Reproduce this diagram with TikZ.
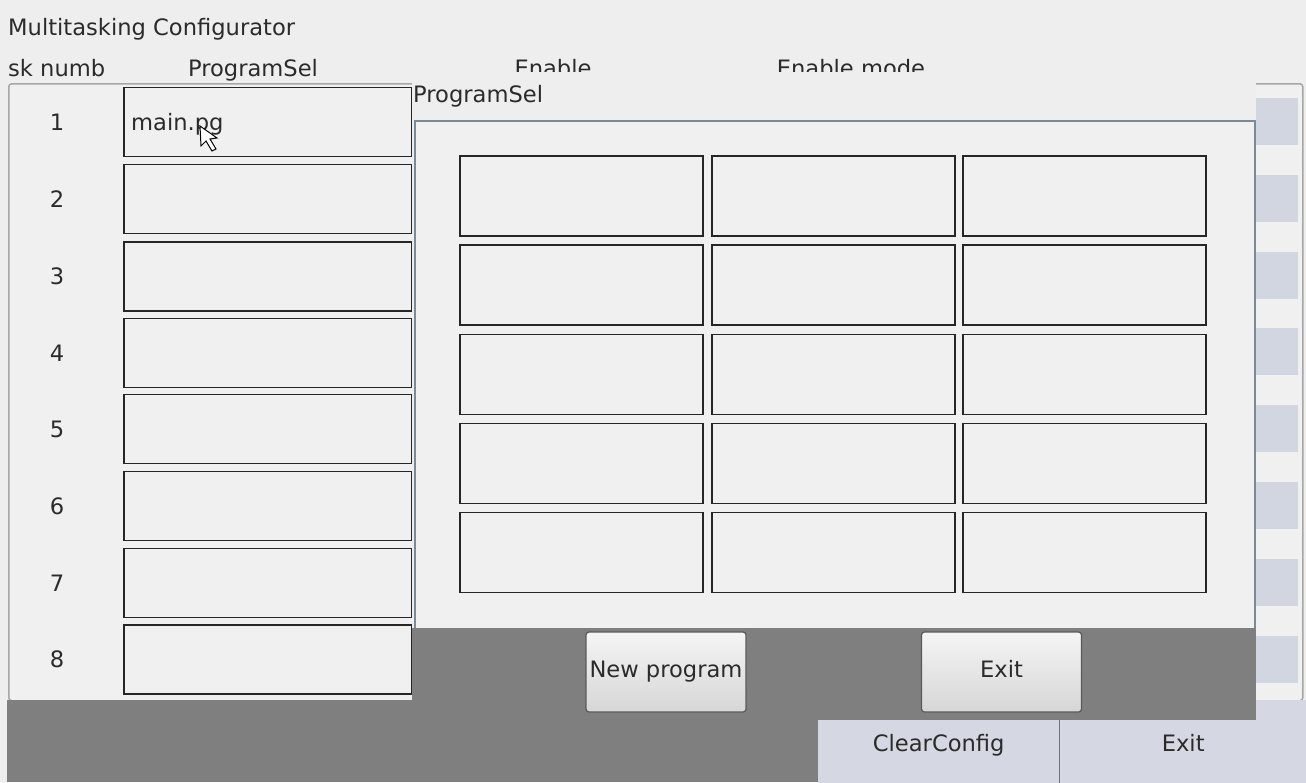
\documentclass[tikz,border=0pt]{standalone}
\usepackage{fontspec}
\setmainfont{DejaVu Sans}
\definecolor{winbg}{HTML}{EEEEEE}
\definecolor{panel}{HTML}{F0F0F0}
\definecolor{dark}{HTML}{7F7F7F}
\definecolor{stripe}{HTML}{D2D6E0}
\definecolor{btnblue}{HTML}{D5D8E2}
\definecolor{edge}{HTML}{7C8A98}
\definecolor{txt}{HTML}{2B2B2B}

\begin{document}
\begin{tikzpicture}[x=1pt, y=-1pt,
    font=\fontsize{22.6}{27}\selectfont, text=txt,
    cell/.style={draw=black!85, line width=1.5, fill=panel, inner sep=0},
    rowbox/.style={cell, minimum width=288, minimum height=69},
    gridbox/.style={cell, minimum width=243, minimum height=80},
    dbtn/.style={draw=black!65, line width=1.2, rounded corners=3, top color=white!96!black, bottom color=black!16,
        minimum width=160, minimum height=80, inner sep=0, text height=16.5, text depth=4.8},
    bbtn/.style={fill=btnblue, anchor=north west, minimum height=90, inner sep=0, text height=16.5, text depth=4.8}]
        \useasboundingbox (0,0) rectangle (1306,782);
        \fill[winbg] (0,0) rectangle (1306,782);

        % title and column heads
        \node[anchor=base west, inner sep=0] (title) at (8,35) {Multitasking Configurator};
        \node[anchor=base west, inner sep=0] (hnum) at (8,76) {sk numb};
        \node[anchor=base, inner sep=0] (hprog) at (253,76) {ProgramSel};
        \node[anchor=base, inner sep=0] (hen) at (553,76) {Enable};
        \node[anchor=base, inner sep=0] (hmode) at (851,76) {Enable mode};

        % table
        \node[draw=black!35, line width=1.5, fill=panel, rounded corners=3, anchor=north west,
            minimum width=1294, minimum height=617, inner sep=0] (frame) at (8,83) {};
        \fill[stripe] (1256,98) rectangle (1298,145);
        \fill[stripe] (1256,175) rectangle (1298,222);
        \fill[stripe] (1256,252) rectangle (1298,299);
        \fill[stripe] (1256,328) rectangle (1298,375);
        \fill[stripe] (1256,405) rectangle (1298,452);
        \fill[stripe] (1256,482) rectangle (1298,529);
        \fill[stripe] (1256,559) rectangle (1298,606);
        \fill[stripe] (1256,636) rectangle (1298,683);

        \node[rowbox] (r1) at (268,122) {};
        \node[rowbox] (r2) at (268,199) {};
        \node[rowbox] (r3) at (268,276.5) {};
        \node[rowbox] (r4) at (268,353) {};
        \node[rowbox] (r5) at (268,429) {};
        \node[rowbox] (r6) at (268,506) {};
        \node[rowbox] (r7) at (268,583) {};
        \node[rowbox] (r8) at (268,659.5) {};
        \node (n1) at (57,122) {1};
        \node (n2) at (57,199) {2};
        \node (n3) at (57,276.5) {3};
        \node (n4) at (57,353) {4};
        \node (n5) at (57,429) {5};
        \node (n6) at (57,506) {6};
        \node (n7) at (57,583) {7};
        \node (n8) at (57,659.5) {8};
        \node[anchor=base west, inner sep=0] (prog1) at (131,130) {main.pg};
        \draw[fill=white, line width=1] (200,126) -- (201,146) -- (206,141) -- (212,151) -- (216,149) -- (210,139) -- (217,138) -- cycle;

        % bottom bar
        \fill[dark] (7,700) rectangle (1306,782);
        \node[bbtn, minimum width=241] (clear) at (818,700) {ClearConfig};
        \node[bbtn, minimum width=246] (quit) at (1060,700) {Exit};
        \draw[black!55, line width=1] (clear.north east) -- (clear.south east);

        % ProgramSel dialog
        \node[fill=winbg, anchor=north west, minimum width=844, minimum height=648, inner sep=0] (dlg) at (412,72) {};
        \node[anchor=base west, inner sep=0] (dlgtitle) at (413,102) {ProgramSel};
        \node[draw=edge, line width=2, fill=panel, anchor=north west,
            minimum width=840, minimum height=508, inner sep=0] (list) at (414,120) {};
        \node[fill=dark, anchor=north west, minimum width=844, minimum height=92, inner sep=0] (dlgbar) at (412,628) {};

        \node[gridbox] (g11) at (581.5,196) {};
        \node[gridbox] (g12) at (833.5,196) {};
        \node[gridbox] (g13) at (1084.5,196) {};
        \node[gridbox] (g21) at (581.5,285) {};
        \node[gridbox] (g22) at (833.5,285) {};
        \node[gridbox] (g23) at (1084.5,285) {};
        \node[gridbox] (g31) at (581.5,374.5) {};
        \node[gridbox] (g32) at (833.5,374.5) {};
        \node[gridbox] (g33) at (1084.5,374.5) {};
        \node[gridbox] (g41) at (581.5,463.5) {};
        \node[gridbox] (g42) at (833.5,463.5) {};
        \node[gridbox] (g43) at (1084.5,463.5) {};
        \node[gridbox] (g51) at (581.5,552.5) {};
        \node[gridbox] (g52) at (833.5,552.5) {};
        \node[gridbox] (g53) at (1084.5,552.5) {};

        \node[dbtn] (newprog) at (666,672) {New program};
        \node[dbtn] (dlgexit) at (1001.5,672) {Exit};
    \end{tikzpicture}
\end{document}
